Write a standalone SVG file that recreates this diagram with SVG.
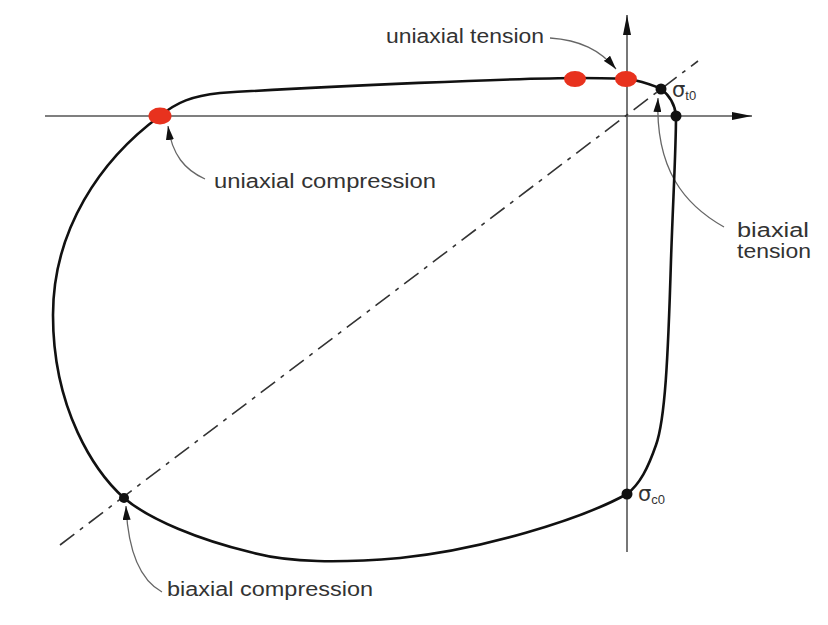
<svg xmlns="http://www.w3.org/2000/svg" width="828" height="625" viewBox="0 0 828 625">
<defs>
<marker id="axisArrow" viewBox="0 0 20 10" refX="20" refY="5" markerWidth="20" markerHeight="10" markerUnits="userSpaceOnUse" orient="auto">
<path d="M0,1 L20,5 L0,9 Z" fill="#111"/>
</marker>
<marker id="annArrow" viewBox="0 0 14 8" refX="14" refY="4" markerWidth="14" markerHeight="8" markerUnits="userSpaceOnUse" orient="auto">
<path d="M0,0 L14,4 L0,8 Z" fill="#111"/>
</marker>
<style>
.axis{stroke:#555;stroke-width:1.6;fill:none}
.diag{stroke:#333;stroke-width:1.6;fill:none;stroke-dasharray:18 7 4 7}
.curve{stroke:#111;stroke-width:2.6;fill:none}
.ann{stroke:#666;stroke-width:1.3;fill:none}
.red{fill:#e8321e}
.blk{fill:#111}
.lbl{font-family:"Liberation Sans",Arial,sans-serif;font-size:20px;fill:#333}
.sig{font-family:"DejaVu Sans","Liberation Sans",sans-serif;font-size:21px;fill:#333}
.sub{font-family:"Liberation Sans",Arial,sans-serif;font-size:13px;fill:#333}
</style>
</defs>
<rect width="828" height="625" fill="#fff"/>
<g id="connectors">
<line class="axis" x1="45" y1="116" x2="752" y2="116" marker-end="url(#axisArrow)"/>
<line class="axis" x1="627" y1="552" x2="627" y2="15" marker-end="url(#axisArrow)"/>
<line class="diag" x1="60" y1="545" x2="698" y2="61"/>
<path class="ann" d="M550,38 C580,40 600,50 616,69" marker-end="url(#annArrow)"/>
<path class="ann" d="M205,179 C185,170 172,155 168,126" marker-end="url(#annArrow)"/>
<path class="ann" d="M724,227 C685,205 655,170 658,98" marker-end="url(#annArrow)"/>
<path class="ann" d="M162,592 C140,580 128,550 126,506" marker-end="url(#annArrow)"/>
</g>
<g id="yield-surface">
<path class="curve" d="M160,116 C177,102 192,96 220,93 C330,86 520,78 580,78 C605,78 628,78 642,82 C652,85 658,87 661,89 C669,95 675,104 676,116 C676,150 673,200 671,260 C668,360 665,420 656,445 C648,468 640,484 627,494 C580,520 480,550 400,558 C340,563 290,563 250,552 C200,540 150,520 124,498 C95,472 53,410 53,315 C53,230 100,160 160,116 Z"/>
</g>
<g id="uniaxial-compression">
<ellipse class="red" cx="160" cy="116" rx="11.5" ry="8.5"/>
<text class="lbl" x="214" y="188" textLength="222" lengthAdjust="spacingAndGlyphs">uniaxial compression</text>
</g>
<g id="uniaxial-tension">
<ellipse class="red" cx="575" cy="79" rx="11" ry="8"/>
<ellipse class="red" cx="626" cy="79" rx="11" ry="8"/>
<text class="lbl" x="386" y="43" textLength="158" lengthAdjust="spacingAndGlyphs">uniaxial tension</text>
</g>
<g id="sigma-t0">
<circle class="blk" cx="661" cy="89" r="5.5"/>
<circle class="blk" cx="676" cy="116" r="5.5"/>
<text class="sig" x="672" y="97">σ<tspan class="sub" dy="3">t0</tspan></text>
</g>
<g id="biaxial-tension">
<text class="lbl" x="737" y="237" textLength="72" lengthAdjust="spacingAndGlyphs">biaxial</text>
<text class="lbl" x="737" y="258" textLength="74" lengthAdjust="spacingAndGlyphs">tension</text>
</g>
<g id="sigma-c0">
<circle class="blk" cx="627" cy="494" r="5.5"/>
<text class="sig" x="638" y="501">σ<tspan class="sub" dy="3">c0</tspan></text>
</g>
<g id="biaxial-compression">
<circle class="blk" cx="124" cy="498" r="5"/>
<text class="lbl" x="167" y="596" textLength="206" lengthAdjust="spacingAndGlyphs">biaxial compression</text>
</g>
</svg>
